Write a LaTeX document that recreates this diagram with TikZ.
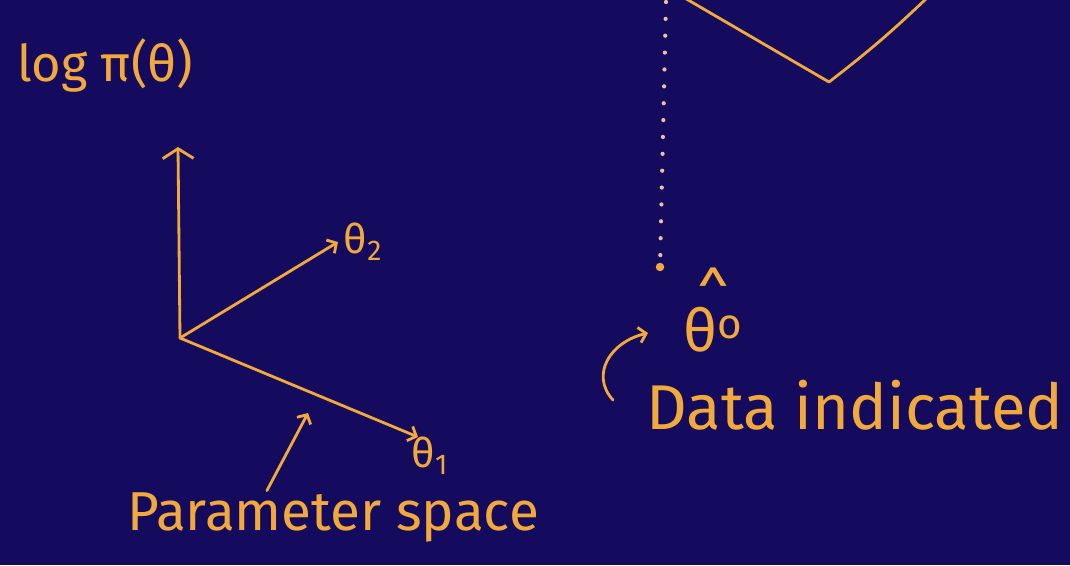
\documentclass[tikz,border=0pt]{standalone}
\usepackage{fontspec}
\setmainfont{Fira Sans}
\usetikzlibrary{arrows.meta,positioning}
\definecolor{bg}{HTML}{140B5E}
\definecolor{ink}{HTML}{F2A93B}
\definecolor{pale}{HTML}{E6C3A8}
\tikzset{
  pen/.style={draw=ink,line width=2pt,line cap=round,line join=round},
  ax/.style={pen,-{Straight Barb[length=5pt,width=11pt]}},
  lbl/.style={text=ink,inner sep=1pt,font=\fontsize{39}{44}\selectfont},
  sm/.style={lbl,font=\fontsize{29}{32}\selectfont},
  dotline/.style={draw=pale,line width=3pt,line cap=round,dash pattern=on 0pt off 12pt},
}
\begin{document}
\begin{tikzpicture}[x=0.025cm,y=-0.025cm]
  \useasboundingbox (0,0) rectangle (1070,565);
  \clip (0,0) rectangle (1070,565);
  \fill[bg] (0,0) rectangle (1070,565);
  % axes of the parameter space
  \coordinate (o) at (180,338);
  \coordinate (up) at (178,147);
  \coordinate (e2) at (338,242);
  \coordinate (e1) at (418,437);
  \draw[ax,-{Straight Barb[length=7pt,width=22pt]}] (o) -- (up);
  \draw[ax] (o) -- (e2);
  \draw[ax] (o) -- (e1);
  \node[lbl,font=\fontsize{36}{40}\selectfont] (lp) at (105,66) {log π(θ)};
  \node[sm,right=3pt of e2] (t2) {θ\textsubscript{2}};
  \node[sm] (t1) at (430,456) {θ\textsubscript{1}};
  \node[lbl] (ps) at (333,517) {Parameter space};
  \coordinate (psarr) at (308,413);
  \draw[ax] ([xshift=-47pt]ps.north) -- (psarr);
  % likelihood and its peak
  \coordinate (dtop) at (666,2);
  \node[circle,fill=ink,inner sep=0pt,minimum size=6pt] (mle) at (660,267) {};
  \draw[dotline] (dtop) -- (mle);
  \coordinate (va) at (683,-3);
  \coordinate (vb) at (829,82);
  \coordinate (vc) at (928,-3);
  \draw[pen] (va) -- (vb) to[bend right=3] (vc);
  \node[lbl,font=\fontsize{42}{44}\selectfont,align=center] (th) at (713,310)
    {\^{}\\[-20pt]θ\textsuperscript{\fontsize{30}{30}\selectfont o}};
  \node[lbl,font=\fontsize{45}{50}\selectfont] (data) at (855,405) {Data indicated};
  \coordinate (hook) at (613,400);
  \coordinate (hooktip) at (648,333);
  \draw[ax] (hook) .. controls (590,375) and (610,342) .. (hooktip);
\end{tikzpicture}
\end{document}
